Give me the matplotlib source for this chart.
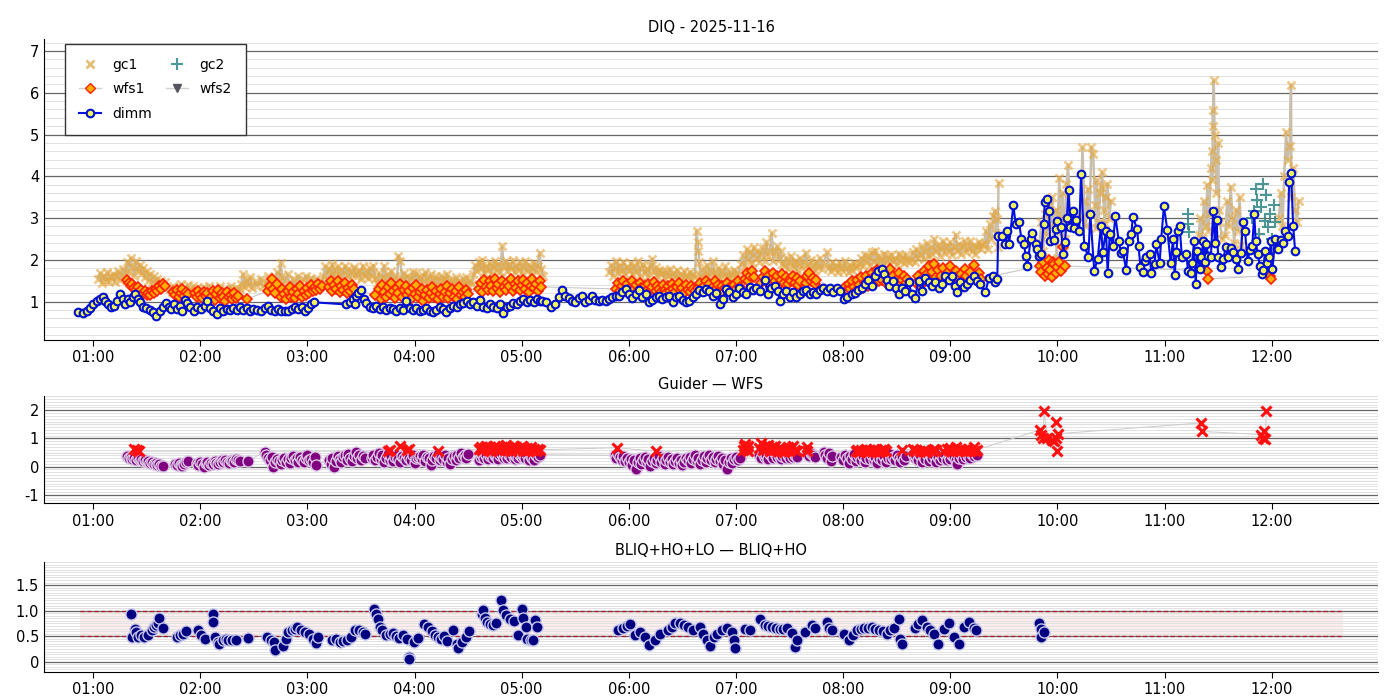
import matplotlib
matplotlib.use("Agg")
import matplotlib.pyplot as plt
import matplotlib.dates as mdates
from matplotlib.ticker import MultipleLocator, FuncFormatter
from matplotlib.lines import Line2D
import numpy as np
import pandas as pd

plt.rcParams['font.family'] = ['DejaVu Sans']
plt.rcParams['axes.unicode_minus'] = False

night = "2025-11-16"
title_top = "DIQ - " + night
title_mid = "Guider — WFS"
title_bot = "BLIQ+HO+LO — BLIQ+HO"

# (minutes after 00:00 UTC, arcsec)
dimm_pts = [
    (51.8, 0.76), (54.6, 0.72), (56.5, 0.78), (58.3, 0.85), (60.2, 0.93), (62.1, 1.01), (63.9, 1.06), (65.8, 1.12),
    (66.7, 1.02), (68.6, 0.94), (69.9, 0.86), (71.8, 0.90), (73.3, 1.01), (75.2, 1.17), (76.7, 1.05), (78.0, 0.94),
    (79.3, 1.06), (80.8, 0.98), (82.3, 1.12), (83.6, 1.17), (84.9, 1.06), (86.4, 0.98), (87.9, 0.88), (89.8, 0.85),
    (91.7, 0.80), (93.6, 0.74), (95.4, 0.66), (97.3, 0.77), (99.2, 0.88), (101.0, 0.96), (102.4, 0.88), (103.7, 0.82),
    (105.2, 0.93), (107.0, 0.82), (108.5, 0.90), (109.9, 0.77), (111.2, 1.04), (112.7, 0.96), (114.5, 0.88), (116.4, 0.78),
    (118.3, 0.88), (120.2, 0.82), (122.4, 0.90), (123.9, 1.02), (125.4, 0.85), (127.3, 0.78), (129.2, 0.69), (131.0, 0.85),
    (132.9, 0.78), (134.8, 0.82), (136.7, 0.80), (138.5, 0.85), (140.4, 0.80), (142.3, 0.86), (144.2, 0.80), (146.0, 0.85),
    (147.9, 0.78), (149.8, 0.82), (151.7, 0.80), (153.9, 0.77), (156.2, 0.85), (158.0, 0.90), (159.9, 0.80), (161.8, 0.77),
    (163.7, 0.82), (165.5, 0.77), (167.4, 0.78), (169.3, 0.77), (171.2, 0.82), (173.0, 0.88), (174.9, 0.82), (176.8, 0.88),
    (178.6, 0.78), (180.1, 0.85), (182.0, 0.93), (183.9, 0.98), (201.7, 0.93), (203.6, 0.98), (205.5, 1.06), (206.4, 0.93),
    (207.3, 1.14), (208.6, 1.20), (210.1, 1.28), (211.6, 1.06), (213.0, 0.96), (214.8, 0.88), (216.7, 0.85), (218.6, 0.90),
    (220.4, 0.82), (222.3, 0.88), (224.2, 0.80), (226.1, 0.85), (227.9, 0.82), (229.8, 0.77), (231.7, 0.85), (233.6, 0.80),
    (235.4, 1.02), (237.3, 0.85), (239.2, 0.80), (241.1, 0.85), (242.9, 0.77), (244.8, 0.80), (246.7, 0.85), (248.6, 0.78),
    (250.4, 0.74), (252.3, 0.80), (254.2, 0.88), (256.1, 0.82), (257.9, 0.74), (259.8, 0.85), (261.7, 0.90), (263.6, 0.86),
    (265.4, 0.93), (267.3, 0.96), (269.2, 1.01), (271.1, 0.93), (272.9, 0.98), (274.8, 0.90), (276.7, 1.04), (278.5, 0.88),
    (280.4, 0.85), (282.3, 0.93), (284.2, 0.88), (286.0, 0.85), (287.9, 0.93), (289.8, 0.72), (291.7, 0.86), (293.5, 0.90),
    (295.4, 0.96), (297.3, 0.93), (299.2, 1.01), (301.0, 1.06), (302.9, 0.98), (304.8, 1.04), (306.7, 0.98), (308.5, 1.06),
    (310.4, 1.01), (311.3, 1.02), (313.6, 0.98), (316.6, 0.88), (318.8, 0.94), (320.7, 1.10), (322.6, 1.28), (324.5, 1.14),
    (326.3, 1.09), (328.2, 1.02), (330.1, 0.98), (332.0, 1.09), (333.8, 1.14), (335.7, 0.98), (337.6, 1.04), (339.5, 1.14),
    (341.3, 1.04), (343.2, 1.02), (345.1, 1.04), (347.0, 1.02), (348.8, 1.06), (350.7, 1.12), (352.6, 1.14), (354.5, 1.14),
    (356.3, 1.22), (358.2, 1.30), (360.1, 1.17), (362.0, 1.09), (363.8, 1.18), (365.7, 1.28), (367.6, 1.10), (369.5, 1.17),
    (371.3, 0.98), (373.2, 1.04), (375.1, 1.10), (377.0, 1.14), (378.8, 1.06), (380.7, 1.10), (382.6, 1.14), (384.5, 0.98),
    (386.3, 1.10), (388.2, 1.14), (390.1, 1.04), (392.0, 0.98), (393.8, 1.02), (395.7, 1.10), (397.6, 1.18), (399.4, 1.28),
    (401.3, 1.22), (403.2, 1.30), (405.1, 1.25), (406.9, 1.14), (408.8, 1.20), (411.1, 0.94), (412.6, 1.06), (414.4, 1.30),
    (416.3, 1.22), (418.2, 1.10), (420.1, 1.18), (421.9, 1.33), (423.8, 1.22), (425.7, 1.18), (427.6, 1.34), (429.4, 1.28),
    (431.3, 1.33), (433.2, 1.26), (436.0, 1.52), (437.9, 1.17), (439.7, 1.33), (441.6, 1.38), (443.5, 1.26), (444.4, 1.02),
    (446.3, 1.17), (448.2, 1.26), (450.0, 1.12), (451.9, 1.22), (453.8, 1.10), (455.7, 1.17), (457.5, 1.25), (459.4, 1.28),
    (461.3, 1.18), (463.2, 1.22), (465.0, 1.17), (466.9, 1.28), (468.8, 1.33), (470.7, 1.26), (472.5, 1.33), (474.4, 1.22),
    (476.3, 1.33), (478.2, 1.26), (480.4, 1.06), (482.3, 1.10), (484.7, 1.17), (486.6, 1.20), (488.5, 1.28), (490.3, 1.33),
    (492.2, 1.42), (494.1, 1.52), (496.0, 1.38), (497.8, 1.62), (499.7, 1.73), (501.6, 1.78), (502.9, 1.65), (504.4, 1.52),
    (505.9, 1.36), (507.8, 1.49), (509.7, 1.33), (511.0, 1.18), (512.8, 1.33), (514.7, 1.26), (516.6, 1.46), (518.5, 1.17),
    (520.3, 1.09), (522.2, 1.49), (524.1, 1.26), (525.9, 1.57), (527.8, 1.46), (529.7, 1.36), (531.6, 1.46), (533.4, 1.33),
    (535.3, 1.41), (537.2, 1.62), (539.1, 1.52), (540.9, 1.60), (542.8, 1.38), (543.8, 1.22), (545.6, 1.46), (547.5, 1.34),
    (549.4, 1.42), (551.3, 1.52), (553.1, 1.60), (555.0, 1.49), (556.9, 1.41), (559.7, 1.22), (561.6, 1.57), (564.0, 1.62),
    (565.2, 1.46), (566.3, 1.54), (566.8, 2.56), (569.1, 2.56), (570.6, 2.37), (571.9, 2.68), (572.9, 2.37), (575.3, 3.30),
    (576.6, 2.86), (578.5, 2.90), (579.8, 2.50), (581.3, 2.38), (582.2, 2.08), (583.2, 1.86), (585.0, 2.50), (586.0, 2.64),
    (587.8, 2.37), (588.8, 2.26), (589.7, 2.10), (591.0, 2.14), (592.2, 2.86), (592.9, 3.38), (594.4, 3.46), (595.3, 3.18),
    (595.9, 2.46), (598.2, 2.48), (599.1, 2.74), (600.0, 2.94), (601.9, 2.78), (603.2, 2.14), (604.2, 2.42), (605.3, 3.01),
    (606.2, 3.66), (607.2, 2.78), (608.5, 3.18), (609.4, 2.77), (610.3, 2.96), (612.2, 2.70), (613.2, 4.06), (615.0, 2.34),
    (617.3, 2.06), (618.4, 3.10), (620.6, 1.74), (622.5, 2.02), (624.4, 2.82), (625.3, 2.18), (627.2, 2.70), (628.1, 1.68),
    (629.3, 2.62), (631.0, 2.34), (632.4, 3.05), (634.3, 2.46), (635.6, 2.16), (636.6, 2.21), (638.4, 1.76), (639.8, 2.46),
    (641.3, 2.61), (642.2, 3.02), (644.6, 2.74), (645.4, 2.32), (646.5, 1.82), (647.8, 1.70), (648.8, 1.98), (649.7, 2.06),
    (651.6, 2.14), (652.5, 1.68), (654.4, 1.90), (655.3, 2.37), (657.2, 1.92), (658.1, 2.50), (659.6, 3.28), (661.5, 2.72),
    (663.4, 1.92), (664.7, 2.50), (665.6, 1.64), (666.6, 2.18), (667.5, 2.70), (668.4, 2.82), (669.7, 2.06), (672.2, 2.14),
    (673.1, 1.73), (674.6, 1.68), (675.4, 1.92), (676.5, 2.46), (677.4, 1.41), (678.4, 2.22), (679.7, 1.78), (680.6, 2.06),
    (681.6, 2.45), (682.5, 1.94), (683.4, 2.37), (684.4, 2.10), (685.9, 2.06), (687.2, 3.18), (688.1, 2.40), (689.1, 2.96),
    (690.0, 2.06), (691.5, 1.82), (692.8, 2.02), (694.3, 2.30), (695.6, 2.06), (696.9, 2.29), (698.4, 2.18), (699.7, 2.02),
    (701.2, 1.78), (702.7, 2.16), (704.0, 2.90), (705.0, 2.69), (706.5, 1.98), (707.8, 2.24), (709.1, 2.34), (710.2, 3.09),
    (711.0, 2.46), (712.1, 2.14), (713.4, 1.86), (714.4, 1.65), (715.3, 1.76), (716.2, 2.21), (717.2, 1.92), (718.5, 2.06),
    (719.6, 2.45), (720.4, 1.78), (721.9, 2.50), (722.8, 2.29), (723.7, 2.26), (725.2, 2.48), (726.5, 2.40), (727.5, 2.69),
    (729.0, 2.56), (729.7, 3.86), (730.8, 4.08), (732.0, 2.80), (733.1, 2.21),
]

gc1_pts = [
    (63, 1.55), (64, 1.68), (65, 1.45), (66, 1.62), (67, 1.50), (68, 1.70), (69, 1.48), (70, 1.58), (71, 1.66), (72, 1.46),
    (73, 1.60), (74, 1.72), (75, 1.52), (76, 1.64), (77, 1.78), (78, 1.56), (79, 1.95), (80, 1.70), (81, 2.05), (82, 1.82),
    (83, 1.62), (84, 1.98), (85, 1.75), (86, 1.88), (87, 1.66), (88, 1.80), (89, 1.58), (90, 1.72), (91, 1.50), (92, 1.65),
    (93, 1.45), (94, 1.60), (95, 1.42), (96, 1.55), (97, 1.38), (98, 1.50), (99, 1.36), (100, 1.46),
    (103, 1.30), (104, 1.22), (105, 1.38), (106, 1.26), (107, 1.18), (108, 1.35), (109, 1.42), (110, 1.24), (111, 1.32),
    (112, 1.20), (113, 1.40), (114, 1.28), (115, 1.22), (116, 1.36), (117, 1.25), (118, 1.32),
    (120, 1.28), (122, 1.35), (123, 1.22), (125, 1.38), (126, 1.25), (128, 1.32), (129, 1.20), (131, 1.36), (132, 1.26),
    (134, 1.30), (135, 1.22), (137, 1.38), (138, 1.27), (140, 1.33), (141, 1.24), (142, 1.30),
    (143, 1.42), (144, 1.66), (145, 1.35), (146, 1.52), (147, 1.40), (148, 1.58), (149, 1.32), (151, 1.48), (152, 1.38),
    (154, 1.55), (155, 1.36), (157, 1.45), (158, 1.62), (159, 1.40), (161, 1.52), (162, 1.34), (163, 1.70), (164, 1.48),
    (165, 1.92), (166, 1.60), (167, 1.45), (169, 1.65), (170, 1.40), (172, 1.55), (173, 1.38), (175, 1.62), (176, 1.44),
    (178, 1.52), (179, 1.62), (181, 1.42), (182, 1.56), (184, 1.46), (185, 1.55), (187, 1.48), (188, 1.42),
    (189, 1.62), (190, 1.85), (191, 1.55), (192, 1.78), (193, 1.66), (194, 1.90), (195, 1.58), (196, 1.72), (197, 1.84),
    (198, 1.60), (199, 1.75), (200, 1.52), (201, 1.86), (202, 1.64), (203, 1.78), (204, 1.55), (205, 1.70), (206, 1.82),
    (207, 1.58), (208, 1.68), (209, 1.75), (210, 1.54), (211, 1.86), (212, 1.62), (213, 1.72), (214, 1.56), (215, 1.80),
    (216, 1.62), (217, 1.86), (218, 1.55),
    (219, 1.45), (220, 1.68), (221, 1.38), (222, 1.58), (223, 1.86), (224, 1.48), (225, 1.65), (226, 1.40), (227, 1.72),
    (228, 1.52), (229, 1.60), (230, 1.42), (231, 2.10), (232, 1.98), (233, 1.55), (234, 1.68), (235, 1.45), (236, 1.62),
    (237, 1.38), (238, 1.55), (239, 1.70), (240, 1.48), (241, 1.68), (242, 1.40), (243, 1.58), (244, 1.46), (245, 1.62),
    (246, 1.70), (247, 1.42), (248, 1.55), (249, 1.65), (250, 1.40), (251, 1.52), (252, 1.60), (253, 1.38), (254, 1.50),
    (255, 1.62), (256, 1.44), (257, 1.55), (258, 1.66), (259, 1.42), (260, 1.52), (261, 1.36), (262, 1.48), (263, 1.58),
    (264, 1.40), (265, 1.50), (266, 1.38), (267, 1.55), (268, 1.44), (269, 1.58), (270, 1.36), (271, 1.48), (272, 1.42),
    (273, 1.65), (274, 1.88), (275, 1.72), (276, 1.95), (277, 1.80), (278, 2.00), (279, 1.68), (280, 1.85), (281, 1.75),
    (282, 1.92), (283, 1.66), (284, 1.82), (285, 1.98), (286, 1.74), (287, 1.90), (288, 1.70), (289, 2.32), (290, 1.84),
    (291, 1.96), (292, 1.72), (293, 1.88), (294, 1.78), (295, 2.00), (296, 1.70), (297, 1.86), (298, 1.76), (299, 1.94),
    (300, 1.68), (301, 1.82), (302, 1.96), (303, 1.72), (304, 1.88), (305, 1.65), (306, 1.80), (307, 1.92), (308, 1.70),
    (309, 1.85), (310, 2.16), (311, 1.78), (312, 1.62),
    (349, 1.70), (350, 1.88), (351, 1.62), (352, 1.80), (353, 1.98), (354, 1.68), (355, 1.85), (356, 1.72), (357, 1.95),
    (358, 1.64), (359, 1.82), (360, 1.75), (361, 1.92), (362, 1.66), (363, 1.86), (364, 1.70), (365, 1.96), (366, 1.62),
    (367, 1.80), (368, 1.90), (369, 1.68), (370, 1.78), (371, 1.62), (372, 1.85), (373, 2.02), (374, 1.70), (375, 1.82),
    (376, 1.60), (377, 1.76), (378, 1.66), (379, 1.72),
    (380, 1.55), (381, 1.72), (382, 1.60), (383, 1.78), (384, 1.52), (385, 1.68), (386, 1.58), (387, 1.75), (388, 1.55),
    (389, 1.66), (390, 1.50), (391, 1.72), (392, 1.60), (393, 1.56), (394, 1.70), (395, 1.52), (396, 1.65), (397, 1.58),
    (398, 2.70), (398.5, 2.42), (399, 2.22), (399.5, 1.94),
    (400, 1.62), (401, 1.78), (402, 1.55), (403, 1.70), (404, 1.88), (405, 1.60), (406, 1.74), (407, 1.96), (408, 1.58),
    (409, 1.68), (410, 1.80), (411, 1.55), (412, 1.72), (413, 1.62), (414, 1.84), (415, 1.58), (416, 1.70), (417, 1.55),
    (418, 1.66), (419, 1.76), (420, 1.60), (421, 1.68),
    (423, 1.90), (424, 2.12), (425, 1.85), (426, 2.25), (427, 2.00), (428, 2.18), (429, 1.92), (430, 2.30), (431, 2.05),
    (432, 2.20), (433, 1.95), (434, 2.15), (435, 2.28), (436, 1.98), (437, 2.42), (438, 2.10), (439, 2.22), (440, 2.64),
    (441, 1.96), (442, 2.18), (443, 2.32), (444, 2.02), (445, 2.20), (446, 1.90),
    (447, 1.85), (448, 2.05), (449, 1.78), (450, 1.95), (451, 2.08), (452, 1.82), (453, 1.98), (454, 1.75), (455, 1.90),
    (456, 2.04), (457, 1.80), (458, 1.95), (459, 2.16), (460, 1.88), (461, 1.76), (462, 2.00), (463, 1.85), (464, 1.72),
    (465, 1.95), (466, 1.82), (467, 2.05), (468, 1.78), (469, 1.90), (471, 2.18),
    (472, 1.82), (473, 1.72), (474, 1.95), (475, 1.78), (476, 1.88), (477, 1.70), (478, 1.92), (479, 1.80), (480, 1.74),
    (481, 1.96), (482, 1.82), (483, 1.70), (484, 1.88), (485, 1.76), (486, 1.92), (487, 1.80), (488, 1.85),
    (489, 1.90), (490, 2.05), (491, 1.85), (492, 2.12), (493, 1.95), (494, 2.08), (495, 1.88), (496, 2.18), (497, 1.98),
    (498, 2.22), (499, 1.92), (500, 2.10), (501, 2.00), (502, 1.86), (503, 2.15), (504, 1.95), (505, 2.08), (506, 1.90),
    (507, 2.12), (508, 1.96), (509, 2.04), (510, 1.88), (511, 2.15), (512, 1.98), (513, 2.08), (514, 1.92), (515, 2.12),
    (516, 2.00), (517, 1.94),
    (518, 2.00), (519, 2.18), (520, 1.95), (521, 2.25), (522, 2.05), (523, 2.15), (524, 2.32), (525, 2.02), (526, 2.22),
    (527, 2.40), (528, 2.08), (529, 2.30), (530, 2.14), (531, 2.50), (532, 2.20), (533, 2.36), (534, 2.10), (535, 2.28),
    (536, 2.45), (537, 2.16), (538, 2.34), (539, 2.22), (540, 2.42), (541, 2.12), (542, 2.30), (543, 2.60), (544, 2.20),
    (545, 2.38), (546, 2.15), (547, 2.32), (548, 2.45), (549, 2.18), (550, 2.28), (551, 2.45), (552, 2.20), (553, 2.35),
    (554, 2.15), (555, 2.30), (556, 2.42), (557, 2.25), (558, 2.35),
    (559, 2.40), (560, 2.70), (561, 2.25), (562, 2.85), (563, 2.50), (564, 3.06), (565, 3.18), (565.5, 2.65), (566, 2.98),
    (566.5, 2.30), (567, 3.84),
    (590, 2.40), (591, 2.90), (592, 2.20), (593, 3.10), (594, 2.60), (595, 3.30), (596, 2.80), (597, 3.50), (598, 2.45),
    (599, 3.20), (599.5, 2.05), (600, 2.70), (601, 3.96), (602, 3.00), (603, 3.60), (603.5, 2.20), (604, 2.50), (605, 3.82),
    (606, 4.26), (607, 2.90),
    (613, 3.00), (614, 4.69), (615, 3.40), (616, 2.80), (617, 3.70), (618, 3.10), (619, 4.70), (620, 4.53), (621, 3.30),
    (621.5, 2.75), (622, 3.90), (623, 2.90), (624, 3.60), (624.5, 3.75), (625, 4.10), (626, 3.20), (626.5, 2.85), (627, 3.50),
    (628, 3.82), (629, 3.00), (630, 3.40),
    (679, 2.60), (680, 3.00), (681, 2.50), (682, 3.40), (683, 2.80), (684, 3.80), (684.5, 2.70), (685, 3.10), (686, 4.20),
    (686.5, 4.60), (686.8, 3.90), (687, 5.58), (687.2, 5.20), (687.5, 6.30), (688, 5.00), (688.5, 4.40), (689, 3.60),
    (690, 4.80), (690.5, 3.20), (691, 2.90), (692, 2.50),
    (694, 2.60), (695, 3.40), (696, 2.80), (697, 3.74), (698, 3.00), (699, 2.40), (700, 3.20), (701, 2.70), (702, 3.50),
    (703, 2.35),
    (724, 3.00), (725, 3.60), (726, 2.80), (727, 4.00), (728, 5.06), (729, 4.38), (730, 4.72), (730.8, 6.18), (731, 3.50),
    (732, 4.20), (733, 3.20), (734, 2.90), (735, 3.40),
]

gc2_pts = [
    (673, 3.10), (673.2, 2.86), (673.4, 2.66), (709, 3.00), (710, 3.18), (711, 3.70), (712, 3.42), (713, 2.62),
    (714, 3.26), (715, 3.82), (716, 2.94), (717, 3.54), (718, 2.78), (719, 3.10), (720, 2.50), (721, 3.30), (722, 2.90),
]

wfs1_pts = [
    (79, 1.52), (80, 1.45), (81, 1.38), (82, 1.42), (83, 1.32), (84, 1.28), (85, 1.35), (86, 1.22), (87, 1.28), (88, 1.18),
    (89, 1.24), (90, 1.15), (91, 1.20), (92, 1.16), (93, 1.25), (94, 1.20), (95, 1.30), (96, 1.24), (97, 1.36), (98, 1.30),
    (99, 1.42), (100, 1.38),
    (105, 1.22), (106, 1.15), (107, 1.28), (108, 1.10), (109, 1.20), (110, 1.30), (111, 1.14), (112, 1.22), (113, 1.18),
    (117, 1.20), (118, 1.12), (119, 1.25), (120, 1.16), (121, 1.08), (122, 1.22), (123, 1.14), (124, 1.20),
    (126, 1.10), (127, 1.25), (128, 1.04), (129, 1.18), (130, 1.28), (131, 1.08), (132, 1.20), (133, 1.12), (134, 1.02),
    (135, 1.22), (136, 1.10), (137, 1.16), (138, 1.05), (139, 1.20), (140, 1.08), (141, 1.14), (146, 1.06),
    (158, 1.25), (159, 1.38), (160, 1.54), (161, 1.30), (162, 1.20), (163, 1.42),
    (165, 1.10), (166, 1.30), (167, 1.18), (168, 1.05), (169, 1.25), (170, 1.35), (171, 1.12), (172, 1.22), (173, 1.08),
    (174, 1.30), (175, 1.18), (176, 1.38), (177, 1.10), (178, 1.26), (179, 1.15), (180, 1.32), (181, 1.20), (182, 1.40),
    (183, 1.24), (184, 1.35), (185, 1.28), (186, 1.42), (187, 1.30), (188, 1.38),
    (192, 1.35), (193, 1.48), (194, 1.25), (195, 1.40), (196, 1.30), (197, 1.50), (198, 1.22), (199, 1.36), (200, 1.28),
    (201, 1.45), (202, 1.20), (203, 1.32), (204, 1.25), (205, 1.40), (206, 1.30),
    (218, 1.15), (220, 1.30), (221, 1.05), (222, 1.40), (223, 1.22), (224, 1.10), (225, 1.35), (226, 1.18), (227, 1.45),
    (228, 1.25), (229, 1.08), (230, 1.32), (231, 1.20), (232, 1.42), (233, 1.12), (234, 1.28), (235, 1.38), (236, 1.15),
    (237, 1.25), (238, 1.05), (239, 1.32), (240, 1.18), (241, 1.40), (242, 1.10), (243, 1.22), (244, 1.30), (245, 1.02),
    (246, 1.15), (247, 1.28), (248, 1.08), (249, 1.20), (250, 1.35), (251, 1.12), (252, 1.25), (253, 1.05), (254, 1.18),
    (255, 1.30), (256, 1.10), (257, 1.22), (258, 1.38), (259, 1.08), (260, 1.20), (261, 1.30), (262, 1.12), (263, 1.25),
    (264, 1.05), (265, 1.35), (266, 1.15), (267, 1.22), (268, 1.10), (269, 1.28), (270, 1.18),
    (276, 1.30), (277, 1.45), (278, 1.22), (279, 1.52), (280, 1.35), (281, 1.28), (282, 1.48), (283, 1.38), (284, 1.25),
    (285, 1.55), (286, 1.32), (287, 1.42), (288, 1.22), (289, 1.50), (290, 1.35), (291, 1.28), (292, 1.45), (293, 1.38),
    (294, 1.55), (295, 1.25), (296, 1.42), (297, 1.32), (298, 1.48), (299, 1.28), (300, 1.40), (301, 1.52), (302, 1.30),
    (303, 1.45), (304, 1.22), (305, 1.38), (306, 1.55), (307, 1.32), (308, 1.42), (309, 1.25), (310, 1.48), (311, 1.35),
    (353, 1.30), (354, 1.45), (355, 1.25), (356, 1.38), (357, 1.50), (358, 1.28), (359, 1.42), (360, 1.22), (361, 1.35),
    (362, 1.48), (363, 1.30), (364, 1.40), (365, 1.25), (366, 1.45), (367, 1.32), (368, 1.20), (369, 1.38), (370, 1.28),
    (371, 1.42), (372, 1.24), (373, 1.35), (374, 1.46), (375, 1.26), (376, 1.38), (377, 1.30), (378, 1.22), (379, 1.40),
    (380, 1.28), (381, 1.20), (382, 1.38), (383, 1.25), (384, 1.42), (385, 1.30), (386, 1.22), (387, 1.35), (388, 1.44),
    (389, 1.26), (390, 1.32), (391, 1.20), (392, 1.40), (393, 1.28), (394, 1.22), (395, 1.36), (396, 1.30), (397, 1.25),
    (399, 1.32), (400, 1.45), (401, 1.25), (402, 1.38), (403, 1.50), (404, 1.28), (405, 1.42), (406, 1.22), (407, 1.35),
    (408, 1.48), (409, 1.30), (410, 1.40), (411, 1.25), (412, 1.38), (413, 1.20), (414, 1.32), (415, 1.45), (416, 1.28),
    (417, 1.36), (418, 1.22), (419, 1.40), (420, 1.30), (421, 1.48), (422, 1.35),
    (425, 1.55), (426, 1.68), (427, 1.50), (428, 1.62), (429, 1.72), (430, 1.58),
    (434, 1.45), (435, 1.58), (436, 1.72), (437, 1.50), (438, 1.62), (439, 1.42), (440, 1.55), (441, 1.68), (442, 1.48),
    (443, 1.60), (444, 1.40), (445, 1.52), (446, 1.65), (447, 1.45), (448, 1.58), (449, 1.42), (450, 1.55), (451, 1.48),
    (452, 1.62), (453, 1.44), (454, 1.56), (455, 1.40), (456, 1.50),
    (459, 1.45), (460, 1.60), (461, 1.68), (462, 1.50), (463, 1.56), (464, 1.42), (465, 1.52),
    (480, 1.22), (481, 1.35), (482, 1.28), (483, 1.42), (484, 1.30), (485, 1.48), (486, 1.35), (487, 1.25), (488, 1.52),
    (489, 1.40), (490, 1.58), (491, 1.32), (492, 1.45), (493, 1.62), (494, 1.38), (495, 1.55), (496, 1.68), (497, 1.42),
    (498, 1.60), (499, 1.75), (500, 1.48), (501, 1.65), (502, 1.52), (503, 1.70), (504, 1.45), (505, 1.58), (506, 1.78),
    (507, 1.50), (508, 1.62), (509, 1.42), (510, 1.55), (511, 1.68), (512, 1.40), (513, 1.52), (514, 1.60), (515, 1.45),
    (516, 1.55),
    (521, 1.45), (522, 1.60), (523, 1.38), (524, 1.55), (525, 1.72), (526, 1.48), (527, 1.65), (528, 1.85), (529, 1.52),
    (530, 1.70), (531, 1.90), (532, 1.58), (533, 1.75), (534, 1.45), (535, 1.62), (536, 1.80), (537, 1.50), (538, 1.68),
    (539, 1.55), (540, 1.85), (541, 1.62), (542, 1.48), (543, 1.72), (544, 1.58), (545, 1.40), (546, 1.65), (547, 1.52),
    (548, 1.78), (549, 1.60), (550, 1.45), (551, 1.70), (552, 1.55), (553, 1.88), (554, 1.62), (555, 1.48), (556, 1.68),
    (557, 1.55),
    (590, 1.85), (591, 1.70), (592, 1.95), (593, 1.62), (594, 1.80), (594.5, 1.65), (595, 2.00), (596, 1.75), (597, 1.58),
    (597.5, 1.95), (598, 1.90), (599, 1.68), (600, 1.82), (601, 1.95), (602, 1.72), (603, 2.30), (604, 1.85),
    (684, 1.74), (684.5, 1.54), (719, 1.62), (719.5, 1.54),
]

# guider (purple) and wfs (red) difference panel
guider_pts = [
    (79, 0.38), (80, 0.32), (81, 0.35), (82, 0.28), (83, 0.32), (84, 0.25), (85, 0.30), (86, 0.22), (87, 0.26), (88, 0.20),
    (89, 0.24), (90, 0.16), (91, 0.20), (92, 0.14), (93, 0.18), (94, 0.10), (95, 0.14), (96, 0.06), (97, 0.10), (98, 0.03),
    (99, 0.02), (106, 0.10), (107, 0.05), (108, 0.12), (109, 0.06), (110, 0.02), (111, 0.10), (112, 0.15), (113, 0.20),
    (118, 0.12), (119, 0.05), (120, 0.15), (121, 0.08), (122, 0.00), (123, 0.12), (124, 0.18), (125, 0.06), (126, 0.14),
    (127, 0.10), (128, 0.20), (129, 0.12), (130, 0.08), (131, 0.18), (132, 0.25), (133, 0.15), (134, 0.22), (135, 0.18),
    (136, 0.12), (137, 0.24), (138, 0.20), (139, 0.15), (140, 0.26), (141, 0.22), (142, 0.20), (146.5, 0.20),
    (156, 0.52), (157, 0.40), (158, 0.30), (159, 0.22), (160, 0.35), (161, 0.00), (162, 0.15), (163, 0.28), (164, 0.20),
    (165, 0.10), (166, 0.25), (167, 0.32), (168, 0.18), (169, 0.28), (170, 0.12), (171, 0.30), (172, 0.38), (173, 0.22),
    (174, 0.30), (175, 0.15), (176, 0.34), (177, 0.25), (178, 0.18), (179, 0.30), (180, 0.40), (181, 0.22), (182, 0.28),
    (183, 0.15), (184, 0.36), (185, 0.05),
    (192, 0.25), (193, 0.10), (194, 0.32), (195, 0.00), (196, 0.20), (197, 0.38), (198, 0.28), (199, 0.15), (200, 0.35),
    (201, 0.42), (202, 0.25), (203, 0.45), (204, 0.30), (205, 0.20), (206, 0.38), (207, 0.52), (208, 0.32), (209, 0.40),
    (210, 0.25), (211, 0.38), (212, 0.30),
    (216, 0.30), (217, 0.42), (218, 0.22), (219, 0.35), (220, 0.48), (221, 0.28), (222, 0.40), (223, 0.18), (224, 0.32),
    (225, 0.45), (226, 0.25), (227, 0.38), (228, 0.20), (229, 0.35), (230, 0.42), (231, 0.28), (232, 0.15), (233, 0.38),
    (234, 0.30), (235, 0.22), (236, 0.45), (237, 0.32), (238, 0.25), (239, 0.40), (240, 0.12), (241, 0.30), (242, 0.35),
    (243, 0.38), (244, 0.28), (245, 0.42), (246, 0.20), (247, 0.35), (248, 0.30), (249, 0.05), (250, 0.25), (251, 0.38),
    (252, 0.32), (253, 0.45), (254, 0.22), (255, 0.35), (256, 0.28), (257, 0.40), (258, 0.18), (259, 0.32), (260, 0.08),
    (261, 0.28), (262, 0.38), (263, 0.25), (264, 0.42), (265, 0.30), (266, 0.48), (267, 0.35), (268, 0.40), (269, 0.30),
    (270, 0.45),
    (276, 0.22), (277, 0.35), (278, 0.45), (279, 0.30), (280, 0.40), (281, 0.28), (282, 0.38), (283, 0.45), (284, 0.32),
    (285, 0.42), (286, 0.35), (287, 0.28), (288, 0.40), (289, 0.45), (290, 0.32), (291, 0.38), (292, 0.30), (293, 0.42),
    (294, 0.35), (295, 0.45), (296, 0.28), (297, 0.38), (298, 0.32), (299, 0.42), (300, 0.35), (301, 0.40), (302, 0.30),
    (303, 0.45), (304, 0.25), (305, 0.38), (306, 0.32), (307, 0.22), (308, 0.40), (309, 0.35), (310, 0.42),
    (352, 0.40), (353, 0.30), (354, 0.45), (355, 0.35), (356, 0.25), (357, 0.38), (358, 0.20), (359, 0.32), (360, 0.15),
    (361, 0.28), (362, 0.05), (363, 0.22), (364, -0.07), (365, 0.18), (366, 0.30), (367, 0.10), (368, 0.25), (369, 0.35),
    (370, 0.15), (371, 0.28), (372, 0.02), (373, 0.20), (374, 0.32), (375, 0.12), (376, 0.25), (377, 0.38), (378, 0.18),
    (379, 0.30), (380, 0.10), (381, 0.22), (382, 0.35), (383, 0.15), (384, 0.28), (385, 0.08), (386, 0.20), (387, 0.32),
    (388, 0.12), (389, 0.25), (390, 0.05), (391, 0.18), (392, 0.30), (393, 0.22), (394, 0.35), (395, 0.12), (396, 0.28),
    (397, 0.40), (398, 0.20), (399, 0.32), (400, 0.10), (401, 0.25), (402, 0.38), (403, 0.18), (404, 0.30), (405, 0.42),
    (406, 0.22), (407, 0.35), (408, 0.15), (409, 0.28), (410, 0.38), (411, 0.20), (412, 0.32), (413, 0.08), (414, 0.25),
    (415, -0.09), (416, 0.18), (417, 0.30), (418, 0.12), (419, 0.28), (420, 0.35), (421, 0.22), (422, 0.30),
    (433, 0.40), (434, 0.30), (435, 0.48), (436, 0.35), (437, 0.42), (438, 0.28), (439, 0.45), (440, 0.38), (441, 0.30),
    (442, 0.50), (443, 0.35), (444, 0.42), (445, 0.28), (446, 0.38), (447, 0.45), (448, 0.32), (449, 0.40), (450, 0.30),
    (451, 0.48), (452, 0.36), (453, 0.42), (454, 0.35),
    (460, 0.45), (461, 0.38), (462, 0.48), (463, 0.40), (464, 0.35),
    (469, 0.52), (470, 0.40), (471, 0.30), (472, 0.48), (473, 0.20), (474, 0.38),
    (479, 0.35), (480, 0.25), (481, 0.40), (482, 0.30), (483, 0.12), (484, 0.38), (485, 0.28), (486, 0.45), (487, 0.20),
    (488, 0.35), (489, 0.42), (490, 0.25), (491, 0.38), (492, 0.15), (493, 0.32), (494, 0.45), (495, 0.28), (496, 0.40),
    (497, 0.22), (498, 0.35), (499, 0.12), (500, 0.30), (501, 0.42), (502, 0.25), (503, 0.38), (504, 0.18), (505, 0.32),
    (506, 0.45), (507, 0.28), (508, 0.35), (509, 0.22), (510, 0.40), (511, 0.30), (512, 0.15), (513, 0.35), (514, 0.25),
    (515, 0.38),
    (519, 0.45), (520, 0.30), (521, 0.38), (522, 0.22), (523, 0.42), (524, 0.15), (525, 0.35), (526, 0.28), (527, 0.45),
    (528, 0.20), (529, 0.38), (530, 0.30), (531, 0.42), (532, 0.18), (533, 0.35), (534, 0.25), (535, 0.40), (536, 0.30),
    (537, 0.45), (538, 0.22), (539, 0.38), (540, 0.28), (541, 0.42), (542, 0.35), (543, 0.25), (544, 0.08), (545, 0.32),
    (546, 0.40), (547, 0.28), (548, 0.45), (549, 0.35), (550, 0.42), (551, 0.30), (552, 0.45), (553, 0.38), (554, 0.48),
    (555, 0.40),
]

wfs_diff_pts = [
    (83, 0.61), (84.5, 0.59), (85.5, 0.55), (225, 0.55), (226, 0.60), (232, 0.73), (236, 0.60), (237, 0.64), (253, 0.55),
    (276, 0.62), (277, 0.70), (278, 0.58), (279, 0.66), (280, 0.72), (281, 0.60), (282, 0.68), (283, 0.56), (284, 0.65),
    (285, 0.74), (286, 0.60), (287, 0.68), (288, 0.58), (289, 0.70), (290, 0.63), (291, 0.76), (292, 0.60), (293, 0.67),
    (294, 0.56), (295, 0.72), (296, 0.62), (297, 0.68), (298, 0.58), (299, 0.65), (300, 0.72), (301, 0.60), (302, 0.55),
    (303, 0.66), (304, 0.60), (305, 0.70), (306, 0.58), (307, 0.64), (308, 0.55), (309, 0.62), (310, 0.60),
    (353.5, 0.67), (375, 0.55),
    (424, 0.58), (424.5, 0.72), (425, 0.80), (425.5, 0.62), (426, 0.68), (426.5, 0.55), (427, 0.75),
    (433, 0.65), (434, 0.85), (435, 0.58), (436, 0.72), (437, 0.62), (438, 0.78), (439, 0.55), (440, 0.68), (441, 0.60),
    (442, 0.75), (443, 0.58), (444, 0.65), (445, 0.55), (446, 0.62), (447, 0.52), (448, 0.60), (449, 0.70), (450, 0.58),
    (451, 0.65), (452, 0.75), (453, 0.60), (454, 0.55), (459.5, 0.68), (460, 0.55),
    (487, 0.55), (488, 0.60), (489, 0.52), (490, 0.58), (492, 0.55), (493, 0.62), (494, 0.52), (495, 0.58), (496, 0.55),
    (497, 0.62), (498, 0.56), (499, 0.60), (500, 0.53), (501, 0.58), (502, 0.55), (503, 0.62), (504, 0.55), (513, 0.60),
    (519, 0.62), (520, 0.55), (521, 0.58), (523, 0.55), (525, 0.60), (526, 0.52), (527, 0.56), (530, 0.55), (531, 0.62),
    (532, 0.58), (536, 0.55), (538, 0.62), (539, 0.58), (540, 0.65), (541, 0.55), (542, 0.60), (543, 0.68), (544, 0.55),
    (545, 0.58), (546, 0.62), (548, 0.58), (549, 0.55), (550, 0.62), (551, 0.56), (552, 0.60), (553, 0.68), (554, 0.55),
    (555, 0.60),
    (590.5, 1.31), (590.7, 1.14), (591.8, 1.02), (592.5, 1.99), (594.3, 1.02), (596.8, 0.96), (598.0, 0.90), (599.0, 1.57),
    (599.3, 1.02), (599.6, 0.55), (600.5, 1.17),
    (680.5, 1.55), (681.0, 1.25), (714.0, 1.14), (715.0, 1.02), (715.8, 1.26), (716.3, 0.98), (717.0, 1.96),
]

bliq_pts = [
    (81.0, 0.93), (81.7, 0.48), (83.2, 0.65), (84.3, 0.58), (85.3, 0.48), (86.8, 0.52), (88.6, 0.48), (90.7, 0.52),
    (92.8, 0.62), (93.9, 0.69), (95.0, 0.71), (96.1, 0.76), (97.1, 0.86), (99.3, 0.67), (106.8, 0.48), (108.9, 0.52),
    (110.5, 0.55), (112.2, 0.60), (119.0, 0.63), (120.3, 0.52), (122.9, 0.45), (127.2, 0.93), (127.4, 0.78), (128.3, 0.48),
    (129.8, 0.39), (130.4, 0.34), (132.6, 0.42), (134.2, 0.44), (135.8, 0.43), (137.9, 0.43), (140.1, 0.43), (146.5, 0.47),
    (157.3, 0.48), (159.4, 0.42), (161.5, 0.39), (162.0, 0.24), (166.3, 0.30), (168.0, 0.45), (169.1, 0.58), (171.2, 0.62),
    (172.8, 0.64), (174.4, 0.68), (176.6, 0.62), (178.7, 0.58), (180.9, 0.55), (183.0, 0.45), (184.7, 0.37), (186.2, 0.48),
    (193.7, 0.42), (196.0, 0.44), (198.0, 0.39), (200.2, 0.41), (202.3, 0.42), (204.5, 0.48), (206.6, 0.62), (208.8, 0.63),
    (210.9, 0.58), (212.0, 0.55), (217.4, 1.03), (218.4, 0.93), (219.5, 0.83), (220.6, 0.69), (221.7, 0.62), (223.8, 0.52),
    (226.0, 0.54), (228.1, 0.56), (229.8, 0.50), (231.3, 0.47), (233.5, 0.52), (235.6, 0.45), (236.7, 0.10), (237.1, 0.06),
    (239.9, 0.39), (242.1, 0.47), (245.3, 0.73), (247.4, 0.69), (249.6, 0.60), (251.7, 0.52), (253.2, 0.48), (254.9, 0.45),
    (256.5, 0.50), (258.2, 0.41), (261.4, 0.62), (263.5, 0.35), (264.6, 0.26), (266.7, 0.39), (268.9, 0.48), (270.6, 0.60),
    (277.5, 0.93), (278.5, 1.01), (279.6, 0.86), (280.7, 0.78), (282.3, 0.74), (283.9, 0.71), (285.8, 0.76), (288.2, 1.20),
    (289.3, 1.02), (291.4, 0.91), (293.6, 0.84), (295.7, 0.80), (297.9, 0.52), (300.0, 1.03), (300.7, 0.86), (302.2, 0.68),
    (303.2, 0.45), (305.4, 0.42), (306.5, 0.43), (307.5, 0.81), (308.6, 0.69),
    (353.9, 0.63), (356.7, 0.67), (358.8, 0.70), (360.8, 0.73), (363.6, 0.52), (366.4, 0.58), (369.2, 0.48), (371.4, 0.32),
    (374.8, 0.43), (377.6, 0.55), (381.7, 0.62), (384.0, 0.68), (385.9, 0.76), (388.7, 0.75), (390.8, 0.72), (392.9, 0.69),
    (395.7, 0.63), (399.9, 0.69), (401.3, 0.55), (404.0, 0.42), (405.4, 0.30), (407.6, 0.48), (409.6, 0.54), (412.4, 0.63),
    (415.2, 0.67), (418.0, 0.58), (418.8, 0.42), (419.4, 0.26), (424.9, 0.65), (427.7, 0.62), (433.3, 0.83), (436.1, 0.71),
    (438.2, 0.70), (440.3, 0.69), (442.4, 0.66), (444.5, 0.65), (446.6, 0.64), (448.6, 0.67), (451.4, 0.56), (452.8, 0.29),
    (454.2, 0.42), (458.4, 0.58), (462.6, 0.71), (464.0, 0.67), (470.9, 0.78), (472.3, 0.67), (473.7, 0.62), (480.7, 0.55),
    (483.5, 0.42), (485.6, 0.52), (487.7, 0.62), (489.8, 0.64), (491.8, 0.67), (494.0, 0.66), (496.0, 0.69), (498.1, 0.65),
    (500.2, 0.63), (502.3, 0.60), (504.4, 0.55), (506.5, 0.62), (508.6, 0.67), (511.4, 0.83), (511.9, 0.45), (512.8, 0.35),
    (520.3, 0.67), (522.0, 0.74), (523.9, 0.81), (526.7, 0.69), (528.8, 0.62), (530.9, 0.55), (533.1, 0.35), (536.4, 0.65),
    (539.2, 0.75), (542.0, 0.48), (544.8, 0.35), (547.6, 0.69), (550.4, 0.78), (553.2, 0.67), (554.6, 0.63),
    (589.4, 0.76), (590.8, 0.65), (590.9, 0.48), (592.2, 0.58),
]

# reference band for the BLIQ panel
band_lo, band_hi = 0.5, 1.0
band_span = (52.7, 759.8)
x_range = (32.5, 779.5)

base = pd.Timestamp(night)


def to_time(minutes):
    return base + pd.to_timedelta(list(minutes), unit="m")


def split(pts):
    pts = sorted(pts)
    t = to_time([p[0] for p in pts])
    v = [p[1] for p in pts]
    return t, v


def broken(pts, gap=6):
    # same points, with a break wherever the sampling stops for a while
    pts = sorted(pts)
    mins, vals = [], []
    for i, (m, v) in enumerate(pts):
        if i and m - pts[i - 1][0] > gap:
            mins.append(m - 0.01)
            vals.append(np.nan)
        mins.append(m)
        vals.append(v)
    return to_time(mins), vals


dimm_t, dimm_v = split(dimm_pts)
gc1_t, gc1_v = split(gc1_pts)
gc1_lt, gc1_lv = broken(gc1_pts)
gc2_t, gc2_v = split(gc2_pts)
wfs1_t, wfs1_v = split(wfs1_pts)
gd_t, gd_v = split(guider_pts)
wd_t, wd_v = split(wfs_diff_pts)
bq_t, bq_v = split(bliq_pts)

fig = plt.figure(figsize=(14, 7), dpi=100)
ax1 = fig.add_axes([0.0314, 0.515, 0.9529, 0.430])
ax2 = fig.add_axes([0.0314, 0.281, 0.9529, 0.153])
ax3 = fig.add_axes([0.0314, 0.040, 0.9529, 0.157])

# --- top: DIQ ---
ax1.plot(gc1_lt, gc1_lv, color="#c9bfac", lw=1.8, zorder=1)
ax1.plot(gc1_t, gc1_v, ls="none", marker="x", ms=6, mew=2, color="#e3a843", alpha=0.6, zorder=2)
ax1.plot(gc2_t, gc2_v, ls="none", marker="+", ms=9, mew=1.5, color="#2e8585", alpha=0.85, zorder=2)
ax1.plot(wfs1_t, wfs1_v, color="#c8c8c8", lw=0.8, zorder=3)
ax1.plot(wfs1_t, wfs1_v, ls="none", marker="D", ms=5.5, mfc="#ffb000", mec="#ff2000", mew=1.2, zorder=4)
ax1.plot(dimm_t, dimm_v, color="#0010e0", lw=1.5, marker="o", ms=5.5, mfc="#f2f25a", mec="#0010d0", mew=1.5, zorder=5)

handles = [
    Line2D([], [], ls="none", marker="x", ms=6, mew=2, color="#e3c07a", label="gc1"),
    Line2D([], [], color="#d0d0d0", lw=1, marker="D", ms=5.5, mfc="#ffb000", mec="#ff2000", label="wfs1"),
    Line2D([], [], color="#0010e0", lw=1.5, marker="o", ms=5.5, mfc="#f2f25a", mec="#0010d0", mew=1.5, label="dimm"),
    Line2D([], [], ls="none", marker="+", ms=9, mew=1.5, color="#4a9a9a", label="gc2"),
    Line2D([], [], color="#d0d0d0", lw=1, marker="v", ms=6, mfc="#555560", mec="#555560", label="wfs2"),
]
leg = ax1.legend(handles=handles, ncol=2, loc="upper left", bbox_to_anchor=(0.016, 0.982), borderaxespad=0,
                 fancybox=False, edgecolor="#333333", fontsize=10, borderpad=1.0, labelspacing=0.75,
                 columnspacing=1.0, handlelength=1.6, handletextpad=0.8, framealpha=1)
leg.get_frame().set_linewidth(1.0)

ax1.set_ylim(0.09, 7.3)
ax1.yaxis.set_major_locator(MultipleLocator(1))
ax1.yaxis.set_minor_locator(MultipleLocator(0.2))
ax1.set_title(title_top, fontsize=10.5, pad=5)

# --- middle: Guider - WFS ---
ax2.plot(gd_t, gd_v, color="#cccccc", lw=0.7, zorder=1)
ax2.plot(wd_t, wd_v, color="#cccccc", lw=0.7, zorder=1)
ax2.plot(gd_t, gd_v, ls="none", marker="o", ms=8, mfc="#800080", mec="#dcc8e4", mew=1.0, zorder=2)
ax2.plot(wd_t, wd_v, ls="none", marker="x", ms=6.5, mew=2.2, color="#ff1010", zorder=3)
ax2.set_ylim(-1.3, 2.5)
ax2.yaxis.set_major_locator(MultipleLocator(1))
ax2.yaxis.set_minor_locator(MultipleLocator(0.1))
for yv in (-0.5, 0.5, 1.5, 2.5):
    ax2.axhline(yv, color="#aaaaaa", lw=0.8, zorder=0)
ax2.set_title(title_mid, fontsize=10.5, pad=5)

# --- bottom: BLIQ ---
band_t = to_time(band_span)
ax3.fill_between(band_t, band_lo, band_hi, color="#ffcccc", alpha=0.35, lw=0, zorder=0)
ax3.hlines([band_lo, band_hi], band_t[0], band_t[1], colors="#a82030", linestyles=(0, (3, 2)), lw=1.0, zorder=1)
ax3.plot(bq_t, bq_v, ls="none", marker="o", ms=8, mfc="#000080", mec="#c8c8ea", mew=1.0, zorder=3)
ax3.set_ylim(-0.2, 1.95)
ax3.yaxis.set_major_locator(MultipleLocator(0.5))
ax3.yaxis.set_minor_locator(MultipleLocator(0.05))
ax3.yaxis.set_major_formatter(FuncFormatter(lambda v, p: "0" if abs(v) < 1e-9 else f"{v:.1f}"))
ax3.set_title(title_bot, fontsize=10.5, pad=5)

xl = to_time(x_range)
for ax in (ax1, ax2, ax3):
    ax.set_xlim(xl[0], xl[1])
    ax.xaxis.set_major_locator(mdates.HourLocator())
    ax.xaxis.set_major_formatter(mdates.DateFormatter("%H:%M"))
    ax.spines["top"].set_visible(False)
    ax.spines["right"].set_visible(False)
    ax.grid(axis="y", which="major", color="#666666", lw=0.9)
    ax.grid(axis="y", which="minor", color="#e2e2e2", lw=0.7)
    ax.set_axisbelow(True)
    ax.tick_params(axis="both", which="major", labelsize=10.5, length=4, direction="out")
    ax.tick_params(axis="y", which="minor", length=0)
    ax.tick_params(axis="y", which="major", length=0)

fig.savefig("out.png", dpi=100)
